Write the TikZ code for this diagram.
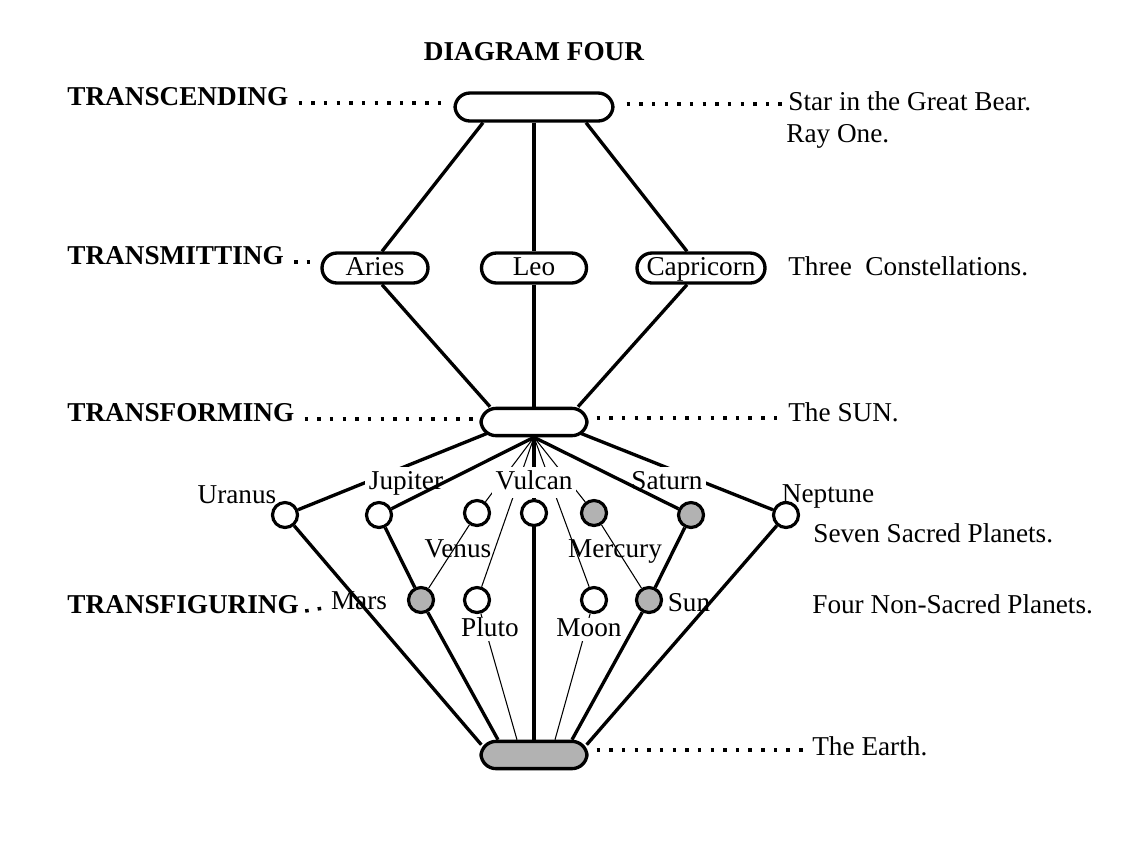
\documentclass[tikz,border=0pt]{standalone}
\usepackage{xcolor}
\usepackage{fontspec}
\setmainfont{Liberation Serif}
\usetikzlibrary{calc}
\definecolor{planetgray}{RGB}{178,178,178}

\begin{document}
\begin{tikzpicture}[x=0.02cm,y=-0.02cm,
  font=\fontsize{15.5}{18}\selectfont,
  level/.style={font=\fontsize{15.5}{18}\selectfont\bfseries,anchor=base west,inner sep=0pt},
  note/.style={anchor=base west,inner sep=0pt},
  pod/.style={draw,line width=1.9pt,rounded corners=8.5pt,minimum height=0.6cm,inner sep=1pt,
    text height=11pt,text depth=2.5pt,fill=white},
  planet/.style={circle,draw,line width=1.8pt,minimum size=0.5cm,inner sep=0pt,fill=white},
  dark/.style={fill=planetgray},
  tag/.style={anchor=base,inner sep=0pt,text height=10.5pt,text depth=3pt},
  cover/.style={tag,inner sep=2pt,fill=white},
  leader/.style={line width=2pt,dash pattern=on 2pt off 5.2pt},
  link/.style={line width=1.9pt},
  fine/.style={line width=0.6pt}]
  \useasboundingbox (0,0) rectangle (1133,840);

  \node[font=\fontsize{15.5}{18}\selectfont\bfseries] (title) at (534,52) {DIAGRAM FOUR};

  % the centres
  \node[pod,minimum width=3.16cm,minimum height=0.56cm] (ray) at (534,107) {};
  \node[pod,minimum width=2.12cm] (aries) at (375,268) {Aries};
  \node[pod,minimum width=2.1cm] (leo) at (534,268) {Leo};
  \node[pod,minimum width=2.56cm] (capri) at (701,268) {Capricorn};
  \node[pod,minimum width=2.12cm,minimum height=0.5cm] (sun) at (534,422) {};
  \node[pod,dark,minimum width=2.12cm,minimum height=0.52cm] (earth) at (534,755) {};

  % the planets
  \node[planet] (uranus) at (285,515) {};
  \node[planet] (jupiter) at (379,515) {};
  \node[planet] (venus) at (477,513) {};
  \node[planet] (vulcan) at (534,513) {};
  \node[planet,dark] (mercury) at (594,513) {};
  \node[planet,dark] (saturn) at (691,515) {};
  \node[planet] (neptune) at (786,515) {};
  \node[planet,dark] (mars) at (421,600) {};
  \node[planet] (pluto) at (477,600) {};
  \node[planet] (moon) at (594,600) {};
  \node[planet,dark] (sunp) at (649,600) {};

  % levels and notes
  \node[level] (l1) at (67,105) {TRANSCENDING};
  \node[level] (l2) at (67,264) {TRANSMITTING};
  \node[level] (l3) at (67,421) {TRANSFORMING};
  \node[level] (l4) at (67,613) {TRANSFIGURING};
  \node[note] (star) at (788,110) {Star in the Great Bear.};
  \node[note] (rayone) at (786,142) {Ray One.};
  \node[note] (three) at (788,275) {Three\ \ Constellations.};
  \node[note] (suntxt) at (788,421) {The SUN.};
  \node[note] (seven) at (813,542) {Seven Sacred Planets.};
  \node[note] (four) at (812,613) {Four Non-Sacred Planets.};
  \node[note] (earthtxt) at (812,755) {The Earth.};
  \node[tag] (marsl) at (359,609) {Mars};

  \draw[leader] ($(l1.base east)+(10,-2)$) -- ($(l1.base east -| ray.west)+(-8,-2)$);
  \draw[leader] ($(ray.east |- star.base)+(12,-6)$) -- ($(star.base west)+(-3,-6)$);
  \draw[leader] ($(l2.base east)+(10,-2)$) -- ($(l2.base east -| aries.west)+(-6,-2)$);
  \draw[leader] ($(l3.base east)+(10,-2)$) -- ($(l3.base east -| sun.west)+(-4,-2)$);
  \draw[leader] ($(sun.east |- suntxt.base)+(8,-3)$) -- ($(suntxt.base west)+(-3,-3)$);
  \draw[leader] ($(l4.base east)+(6,-2)$) -- ($(marsl.base west)+(-1,-2)$);
  \draw[leader] ($(earth.east |- earthtxt.base)+(8,-5)$) -- ($(earthtxt.base west)+(-6,-5)$);

  % upper triangle
  \draw[link] ($(ray.south)+(-51,0)$) -- ($(aries.north)+(7,0)$);
  \draw[link] (ray.south) -- (leo.north);
  \draw[link] ($(ray.south)+(52,0)$) -- ($(capri.north)+(-14,0)$);
  \draw[link] ($(aries.south)+(7,0)$) -- ($(sun.north)+(-44,0)$);
  \draw[link] (leo.south) -- (sun.north);
  \draw[link] ($(capri.south)+(-14,0)$) -- ($(sun.north)+(44,0)$);

  % from the sun
  \draw[link] ($(sun.south west)+(8,-4)$) -- (uranus);
  \draw[link] ($(sun.south east)+(-8,-4)$) -- (neptune);
  \draw[link] (sun.south) -- (vulcan);
  \draw[fine] (sun.south) -- (venus);
  \draw[fine] (sun.south) -- (pluto);
  \draw[fine] (sun.south) -- (moon);
  \draw[fine] (sun.south) -- (mercury);

  % down to the earth
  \draw[link] (uranus) -- ($(earth.north west)+(2,5)$);
  \draw[link] (jupiter) -- (mars);
  \draw[link] (mars) -- ($(earth.north)+(-36,0)$);
  \draw[fine] (venus) -- (mars);
  \draw[fine] (pluto) -- ($(earth.north)+(-17,0)$);
  \draw[link] (vulcan) -- (earth.north);
  \draw[fine] (moon) -- ($(earth.north)+(21,0)$);
  \draw[fine] (mercury) -- (sunp);
  \draw[link] (saturn) -- (sunp);
  \draw[link] (sunp) -- ($(earth.north)+(38,0)$);
  \draw[link] (neptune) -- ($(earth.north east)+(-2,5)$);

  \node[cover] (jupl) at (406,489) {Jupiter};
  \node[cover] (vull) at (534,489) {Vulcan};
  \node[cover] (satl) at (667,489) {Saturn};
  \node[cover,inner sep=0pt] (plul) at (490,636) {Pluto};
  \node[cover,inner sep=0pt] (moonl) at (589,636) {Moon};

  \draw[link] (sun.south) -- (jupiter);
  \draw[link] (sun.south) -- (saturn);

  \node[tag] (uranl) at (237,503) {Uranus};
  \node[tag] (nepl) at (828,502) {Neptune};
  \node[tag] (venl) at (458,557) {Venus};
  \node[tag] (merl) at (615,557) {Mercury};
  \node[tag] (sunl) at (689,611) {Sun};
\end{tikzpicture}
\end{document}
